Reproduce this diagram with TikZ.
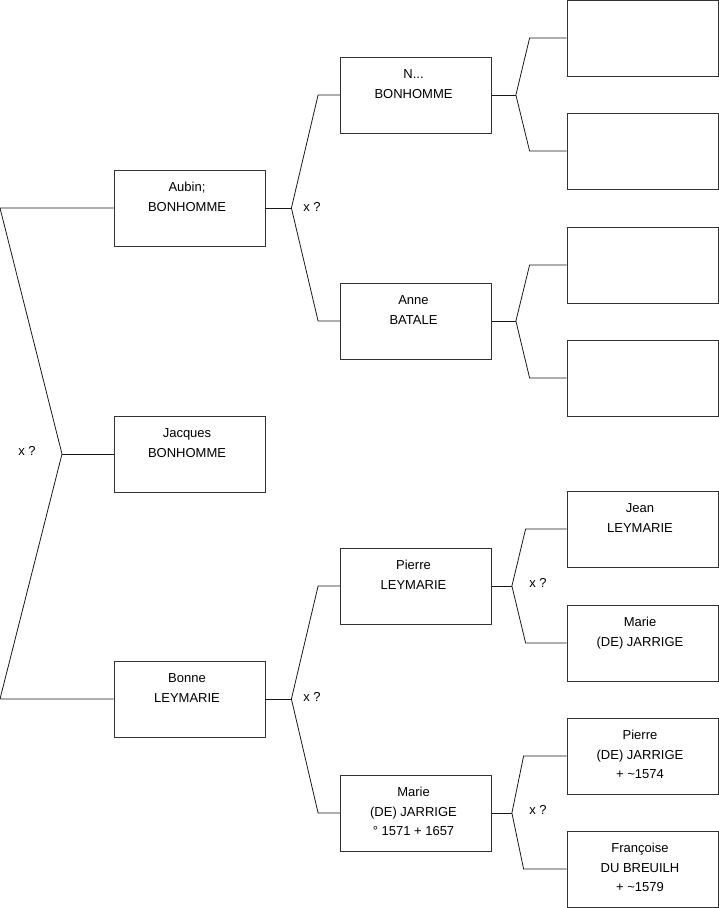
\documentclass[tikz,border=0pt]{standalone}
\usepackage{fontspec}
\setmainfont{Liberation Sans}
\usetikzlibrary{positioning, calc}
\tikzset{
    person/.style={draw=black!80, line width=0.8pt, minimum width=151pt,
        minimum height=76pt, inner sep=0pt,
        font=\fontsize{13}{19.5}\selectfont},
    fork/.style={draw=black!90, line width=0.8pt},
    xq/.style={inner sep=0pt, font=\fontsize{13}{15}\selectfont}
}
\newcommand{\famtext}[1]{\parbox[c][76pt][t]{151pt}{\centering\rightskip=5pt plus 1fil\vspace*{11.5pt}\rule{0pt}{10pt}#1}}

\begin{document}
\begin{tikzpicture}[x=1pt, y=-1pt]
    \useasboundingbox (0,0) rectangle (719,908);

    % generation 1
    \node[person] (aubin) at (189.5,208) {\famtext{Aubin;\\BONHOMME}};
    \node[person] (jacques) at (189.5,454) {\famtext{Jacques\\BONHOMME}};
    \node[person] (bonne) at (189.5,699) {\famtext{Bonne\\LEYMARIE}};

    % generation 2
    \node[person] (nbon) at (416,95) {\famtext{N...\\BONHOMME}};
    \node[person] (anne) at (416,321) {\famtext{Anne\\BATALE}};
    \node[person] (pierre) at (416,586) {\famtext{Pierre\\LEYMARIE}};
    \node[person] (marie) at (416,813) {\famtext{Marie\\(DE) JARRIGE\\° 1571 + 1657}};

    % generation 3
    \node[person] (gp1) at (642.5,38) {};
    \node[person] (gp2) at (642.5,151) {};
    \node[person] (gp3) at (642.5,265) {};
    \node[person] (gp4) at (642.5,378) {};
    \node[person] (jean) at (642.5,529) {\famtext{Jean\\LEYMARIE}};
    \node[person] (mariej) at (642.5,643) {\famtext{Marie\\(DE) JARRIGE}};
    \node[person] (pierrej) at (642.5,756) {\famtext{Pierre\\(DE) JARRIGE\\+ \textasciitilde1574}};
    \node[person] (francoise) at (642.5,869) {\famtext{Françoise\\DU BREUILH\\+ \textasciitilde1579}};

    % root fork
    \coordinate (rtop) at (0,208);
    \coordinate (rbot) at (0,699);
    \coordinate (root) at (62,454);
    \draw[fork] (aubin.west) -- (rtop) -- (root) -- (rbot) -- (bonne.west);
    \draw[fork] (root) -- (jacques.west);
    \node[xq] (xroot) at (27,451) {x ?};

    % forks of generation 1
    \coordinate (fa) at ($(aubin.east)+(26,0)$);
    \draw[fork] (aubin.east) -- (fa);
    \draw[fork] (nbon.west) -- ++(-22,0) -- (fa) -- ($(anne.west)+(-22,0)$) -- (anne.west);
    \node[xq] (xaubin) at (312,207) {x ?};

    \coordinate (fb) at ($(bonne.east)+(26,0)$);
    \draw[fork] (bonne.east) -- (fb);
    \draw[fork] (pierre.west) -- ++(-22,0) -- (fb) -- ($(marie.west)+(-22,0)$) -- (marie.west);
    \node[xq] (xbonne) at (312,697) {x ?};

    % forks of generation 2
    \coordinate (fn) at ($(nbon.east)+(24,0)$);
    \draw[fork] (nbon.east) -- (fn);
    \draw[fork] (gp1.west) -- ++(-37,0) -- (fn) -- ($(gp2.west)+(-37,0)$) -- (gp2.west);

    \coordinate (fan) at ($(anne.east)+(24,0)$);
    \draw[fork] (anne.east) -- (fan);
    \draw[fork] (gp3.west) -- ++(-37,0) -- (fan) -- ($(gp4.west)+(-37,0)$) -- (gp4.west);

    \coordinate (fp) at ($(pierre.east)+(20,0)$);
    \draw[fork] (pierre.east) -- (fp);
    \draw[fork] (jean.west) -- ++(-41,0) -- (fp) -- ($(mariej.west)+(-41,0)$) -- (mariej.west);
    \node[xq] (xpierre) at (538,583) {x ?};

    \coordinate (fm) at ($(marie.east)+(20,0)$);
    \draw[fork] (marie.east) -- (fm);
    \draw[fork] (pierrej.west) -- ++(-43,0) -- (fm) -- ($(francoise.west)+(-43,0)$) -- (francoise.west);
    \node[xq] (xmarie) at (538,810) {x ?};
\end{tikzpicture}
\end{document}
